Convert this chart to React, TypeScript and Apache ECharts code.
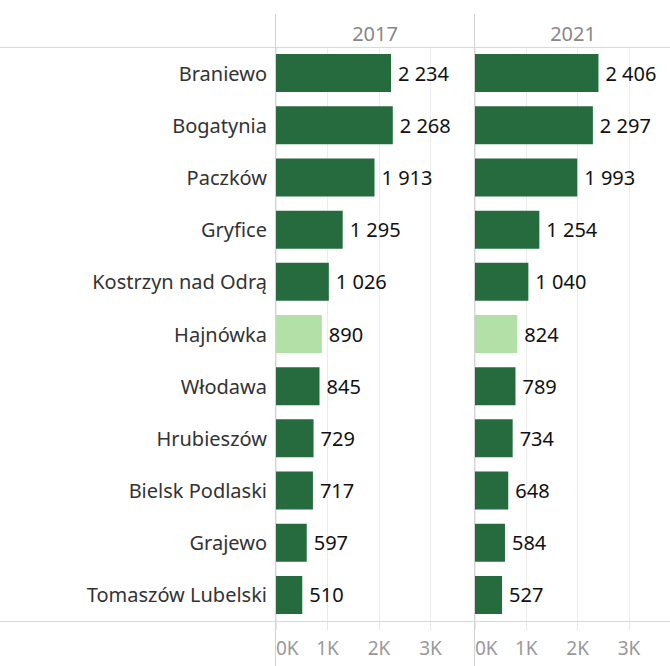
import React, { useEffect, useRef } from "react";
import * as echarts from "echarts";

const categories = [
  "Braniewo",
  "Bogatynia",
  "Paczków",
  "Gryfice",
  "Kostrzyn nad Odrą",
  "Hajnówka",
  "Włodawa",
  "Hrubieszów",
  "Bielsk Podlaski",
  "Grajewo",
  "Tomaszów Lubelski",
];
const values2017 = [2234, 2268, 1913, 1295, 1026, 890, 845, 729, 717, 597, 510];
const values2021 = [2406, 2297, 1993, 1254, 1040, 824, 789, 734, 648, 584, 527];
const panelTitles = ["2017", "2021"];
const highlighted = "Hajnówka";

const DARK = "#256b3e";
const LIGHT = "#b3e0a6";
const FONT = "'Noto Sans', sans-serif";

const fmt = (v: number) => {
  const s = String(Math.round(v));
  return s.length > 3 ? s.slice(0, s.length - 3) + " " + s.slice(-3) : s;
};

export default function App() {
  const ref = useRef<HTMLDivElement>(null);
  useEffect(() => {
    if (!ref.current) return;
    const chart = echarts.init(ref.current, null, { renderer: "svg" });
    const mkData = (vals: number[]) =>
      vals.map((v, i) => ({
        value: v,
        itemStyle: { color: categories[i] === highlighted ? LIGHT : DARK },
      }));
    const xAxisBase = (gridIndex: number, max: number) => ({
      type: "value",
      gridIndex,
      min: 0,
      max,
      interval: 1000,
      axisLine: { show: false },
      axisTick: { show: true, length: 9, lineStyle: { color: "#e6e6e6" } },
      splitLine: { show: true, lineStyle: { color: "#ececec", width: 1 } },
      axisLabel: {
        showMaxLabel: false,
        alignMinLabel: "left",
        formatter: (v: number) => v / 1000 + "K",
        color: "#999",
        fontSize: 19,
        fontFamily: FONT,
        margin: 17,
      },
    });
    const yAxisBase = (gridIndex: number, showLabels: boolean) => ({
      type: "category",
      gridIndex,
      data: categories,
      inverse: true,
      axisLine: { show: false },
      axisTick: { show: false },
      splitLine: { show: false },
      axisLabel: {
        show: showLabels,
        color: "#333",
        fontSize: 20,
        fontFamily: FONT,
        margin: 9,
      },
    });
    const labelStyle = {
      show: true,
      position: "right",
      distance: 7,
      color: "#111",
      fontSize: 20,
      fontFamily: FONT,
      formatter: (p: any) => fmt(p.value),
    };
    chart.setOption({
      animation: false,
      grid: [
        { left: 276, top: 47, width: 198, height: 574 },
        { left: 475, top: 47, width: 195, height: 574 },
      ],
      xAxis: [xAxisBase(0, 3845), xAxisBase(1, 3800)],
      yAxis: [yAxisBase(0, true), yAxisBase(1, false)],
      series: [
        {
          type: "bar",
          xAxisIndex: 0,
          yAxisIndex: 0,
          data: mkData(values2017),
          barWidth: 38,
          label: labelStyle,
        },
        {
          type: "bar",
          xAxisIndex: 1,
          yAxisIndex: 1,
          data: mkData(values2021),
          barWidth: 38,
          label: labelStyle,
        },
      ],
      graphic: [
        { type: "line", shape: { x1: 0, y1: 47.5, x2: 670, y2: 47.5 }, style: { stroke: "#d9d9d9", lineWidth: 1 }, z: 10 },
        { type: "line", shape: { x1: 0, y1: 621.5, x2: 670, y2: 621.5 }, style: { stroke: "#d9d9d9", lineWidth: 1 }, z: 10 },
        { type: "line", shape: { x1: 275.5, y1: 14, x2: 275.5, y2: 666 }, style: { stroke: "#d4d4d4", lineWidth: 1 }, z: 10 },
        { type: "line", shape: { x1: 474.5, y1: 14, x2: 474.5, y2: 666 }, style: { stroke: "#d4d4d4", lineWidth: 1 }, z: 10 },
        {
          type: "text",
          x: 375,
          y: 33,
          style: { text: panelTitles[0], fill: "#888", fontSize: 20, fontFamily: FONT, textAlign: "center", textVerticalAlign: "middle" },
        },
        {
          type: "text",
          x: 573,
          y: 33,
          style: { text: panelTitles[1], fill: "#888", fontSize: 20, fontFamily: FONT, textAlign: "center", textVerticalAlign: "middle" },
        },
      ],
    });
    return () => chart.dispose();
  }, []);
  return <div ref={ref} style={{ width: 670, height: 666, position: "absolute", left: 0, top: 0 }} />;
}
